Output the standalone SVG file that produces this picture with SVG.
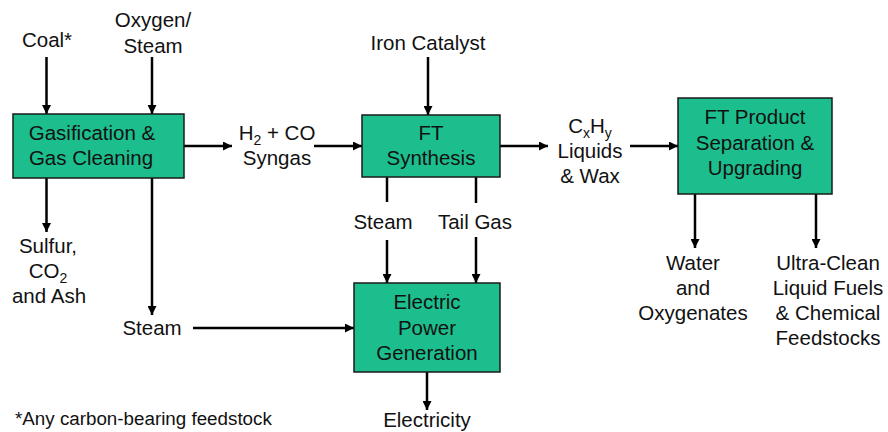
<svg xmlns="http://www.w3.org/2000/svg" width="888" height="432" viewBox="0 0 888 432">
<defs>
<marker id="ah" viewBox="0 0 10 10" refX="10" refY="5" markerWidth="9" markerHeight="9" markerUnits="userSpaceOnUse" orient="auto">
<path d="M0,0 L10,5 L0,10 Z" fill="#000"/>
</marker>
<style>
.box{fill:#1CBE8D;stroke:#1a1a1a;stroke-width:1.5}
.t{font-family:"Liberation Sans",Arial,sans-serif;font-size:20.5px;fill:#111;text-anchor:middle}
.fn{font-family:"Liberation Sans",Arial,sans-serif;font-size:18.8px;fill:#111}
.c{stroke:#000;stroke-width:2.5;fill:none}
.a{marker-end:url(#ah)}
</style>
</defs>
<rect width="888" height="432" fill="#fff"/>
<g id="connectors">
<line class="c a" x1="46.5" y1="57" x2="46.5" y2="114"/>
<line class="c a" x1="152" y1="57" x2="152" y2="114"/>
<line class="c a" x1="184" y1="146" x2="232" y2="146"/>
<line class="c a" x1="46.5" y1="178" x2="46.5" y2="232"/>
<line class="c a" x1="152" y1="178" x2="152" y2="315"/>
<line class="c a" x1="193" y1="328" x2="354" y2="328"/>
<line class="c a" x1="428" y1="57" x2="428" y2="115"/>
<line class="c a" x1="314" y1="146" x2="362" y2="146"/>
<line class="c a" x1="500" y1="146" x2="548" y2="146"/>
<line class="c" x1="387" y1="177" x2="387" y2="202"/>
<line class="c a" x1="387" y1="240" x2="387" y2="283"/>
<line class="c" x1="476" y1="177" x2="476" y2="203"/>
<line class="c a" x1="476" y1="237" x2="476" y2="283"/>
<line class="c a" x1="427" y1="372" x2="427" y2="410"/>
<line class="c a" x1="630" y1="146" x2="678" y2="146"/>
<line class="c a" x1="695" y1="194" x2="695" y2="248"/>
<line class="c a" x1="816" y1="194" x2="816" y2="248"/>
</g>
<g id="gasification">
<rect class="box" x="13" y="114" width="171" height="64"/>
<text class="t" x="92" y="140">Gasification &amp;</text>
<text class="t" x="91" y="165">Gas Cleaning</text>
</g>
<g id="ft-synthesis">
<rect class="box" x="362" y="115" width="138" height="62"/>
<text class="t" x="431" y="140">FT</text>
<text class="t" x="431" y="165">Synthesis</text>
</g>
<g id="ft-product">
<rect class="box" x="678" y="98" width="154" height="96"/>
<text class="t" x="755" y="124">FT Product</text>
<text class="t" x="755" y="150">Separation &amp;</text>
<text class="t" x="755" y="175">Upgrading</text>
</g>
<g id="electric-power">
<rect class="box" x="354" y="283" width="146" height="89"/>
<text class="t" x="427" y="309">Electric</text>
<text class="t" x="427" y="335">Power</text>
<text class="t" x="427" y="360">Generation</text>
</g>
<g id="labels">
<text class="t" x="47" y="47">Coal*</text>
<text class="t" x="153" y="27">Oxygen/</text>
<text class="t" x="153" y="53">Steam</text>
<text class="t" x="428" y="50">Iron Catalyst</text>
<text class="t" x="277" y="140">H<tspan dy="5" font-size="14">2</tspan><tspan dy="-5"> + CO</tspan></text>
<text class="t" x="277" y="165">Syngas</text>
<text class="t" x="590" y="133">C<tspan dy="5" font-size="14">x</tspan><tspan dy="-5">H</tspan><tspan dy="5" font-size="14">y</tspan></text>
<text class="t" x="590" y="158">Liquids</text>
<text class="t" x="590" y="183">&amp; Wax</text>
<text class="t" x="48" y="253">Sulfur,</text>
<text class="t" x="48" y="278">CO<tspan dy="5" font-size="14">2</tspan></text>
<text class="t" x="49" y="303">and Ash</text>
<text class="t" x="152" y="335">Steam</text>
<text class="t" x="383" y="229">Steam</text>
<text class="t" x="475" y="229">Tail Gas</text>
<text class="t" x="427" y="427">Electricity</text>
<text class="t" x="693" y="270">Water</text>
<text class="t" x="693" y="295">and</text>
<text class="t" x="693" y="320">Oxygenates</text>
<text class="t" x="828" y="270">Ultra-Clean</text>
<text class="t" x="828" y="295">Liquid Fuels</text>
<text class="t" x="828" y="320">&amp; Chemical</text>
<text class="t" x="828" y="345">Feedstocks</text>
<text class="fn" x="15" y="425">*Any carbon-bearing feedstock</text>
</g>
</svg>
